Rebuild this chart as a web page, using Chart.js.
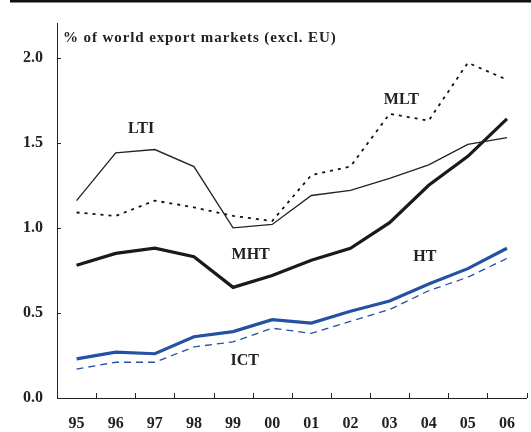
<!DOCTYPE html>
<html>
<head>
<meta charset="utf-8">
<script src="https://cdn.jsdelivr.net/npm/chart.js@4/dist/chart.umd.min.js"></script>
<style>
  html, body { margin: 0; padding: 0; background: #fff; }
  #wrap { position: relative; width: 531px; height: 432px; }
</style>
</head>
<body>
<div id="wrap"><canvas id="shareChart"></canvas></div>
<script>
const years = ["95", "96", "97", "98", "99", "00", "01", "02", "03", "04", "05", "06"];
const lti = [1.16, 1.44, 1.46, 1.36, 1.00, 1.02, 1.19, 1.22, 1.29, 1.37, 1.49, 1.53];
const mlt = [1.09, 1.07, 1.16, 1.12, 1.07, 1.04, 1.31, 1.36, 1.67, 1.63, 1.97, 1.87];
const mht = [0.78, 0.85, 0.88, 0.83, 0.65, 0.72, 0.81, 0.88, 1.03, 1.25, 1.42, 1.64];
const ht = [0.23, 0.27, 0.26, 0.36, 0.39, 0.46, 0.44, 0.51, 0.57, 0.67, 0.76, 0.88];
const ict = [0.17, 0.21, 0.21, 0.30, 0.33, 0.41, 0.38, 0.45, 0.52, 0.63, 0.71, 0.82];
const yTicks = [0, 0.5, 1.0, 1.5, 2.0];

const serif = "'Liberation Serif', 'Times New Roman', serif";
const blue = "#2451a3";

// series names written next to the lines: [text, x category position, y value]
const seriesLabels = [
    ["LTI", 1.65, 1.58],
    ["MLT", 8.3, 1.75],
    ["MHT", 4.45, 0.84],
    ["HT", 8.9, 0.83],
    ["ICT", 4.3, 0.22]
];

const extras = {
    id: "extras",
    afterDraw(chart) {
        const ctx = chart.ctx;
        const x = chart.scales.x;
        const y = chart.scales.y;
        const area = chart.chartArea;
        ctx.save();

        // top rule
        ctx.fillStyle = "#111";
        ctx.fillRect(10, 0, chart.width - 10, 2.5);

        // inward tick marks
        ctx.strokeStyle = "#222";
        ctx.lineWidth = 1;
        ctx.beginPath();
        yTicks.forEach(v => {
            const py = Math.round(y.getPixelForValue(v)) + 0.5;
            ctx.moveTo(area.left, py);
            ctx.lineTo(area.left + 4, py);
        });
        for (let i = 1; i <= years.length; i++) {
            const px = Math.round(x.getPixelForValue(i - 0.5)) + 0.5;
            ctx.moveTo(px, area.bottom);
            ctx.lineTo(px, area.bottom - 5);
        }
        ctx.stroke();

        // title inside the plot
        ctx.fillStyle = "#222";
        ctx.font = "bold 15px " + serif;
        ctx.letterSpacing = "0.9px";
        ctx.textAlign = "left";
        ctx.textBaseline = "middle";
        ctx.fillText("% of world export markets (excl. EU)", area.left + 6, area.top + 15);
        ctx.letterSpacing = "0px";

        // series names
        ctx.font = "bold 16px " + serif;
        ctx.textAlign = "center";
        seriesLabels.forEach(([txt, cx, cy]) => {
            ctx.fillText(txt, x.getPixelForValue(cx), y.getPixelForValue(cy));
        });
        ctx.restore();
    }
};

const ctx = document.getElementById("shareChart").getContext("2d");
new Chart(ctx, {
    type: "line",
    data: {
        labels: years,
        datasets: [
            { label: "LTI", data: lti, borderColor: "#222", borderWidth: 1.3 },
            { label: "MLT", data: mlt, borderColor: "#111", borderWidth: 1.8, borderDash: [3, 5] },
            { label: "MHT", data: mht, borderColor: "#1a1a1a", borderWidth: 3.2 },
            { label: "HT", data: ht, borderColor: blue, borderWidth: 3.2 },
            { label: "ICT", data: ict, borderColor: blue, borderWidth: 1.3, borderDash: [7, 5] }
        ]
    },
    options: {
        responsive: true,
        maintainAspectRatio: false,
        animation: false,
        layout: { padding: { top: 22, right: 1, left: 0, bottom: 0 } },
        elements: {
            point: { radius: 0 },
            line: { tension: 0, fill: false, borderCapStyle: "butt" }
        },
        plugins: {
            legend: { display: false },
            tooltip: { enabled: false }
        },
        scales: {
            x: {
                offset: true,
                grid: { display: false, drawTicks: false },
                border: { color: "#222", width: 1 },
                ticks: {
                    color: "#222",
                    padding: 16,
                    maxRotation: 0,
                    font: { family: serif, size: 16, weight: "bold" }
                },
                afterFit(scale) { scale.height = 34; }
            },
            y: {
                min: 0,
                max: 2.2,
                grid: { display: false, drawTicks: false },
                border: { color: "#222", width: 1 },
                afterBuildTicks(scale) {
                    scale.ticks = yTicks.map(v => ({ value: v }));
                },
                ticks: {
                    color: "#222",
                    padding: 14,
                    callback: v => v.toFixed(1),
                    font: { family: serif, size: 16, weight: "bold" }
                },
                afterFit(scale) { scale.width = 57; }
            }
        }
    },
    plugins: [extras]
});
</script>
</body>
</html>
